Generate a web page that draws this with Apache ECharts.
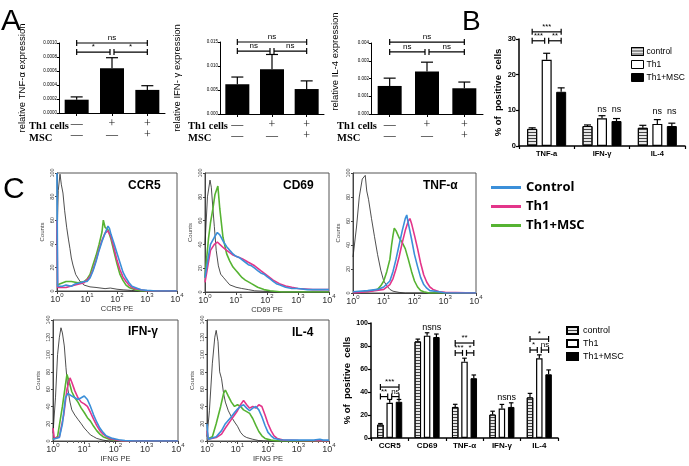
<!DOCTYPE html>
<html><head><meta charset="utf-8">
<script src="https://cdn.jsdelivr.net/npm/echarts@6/dist/echarts.min.js"></script>
<style>html,body{margin:0;padding:0;background:#fff}#c{width:689px;height:466px}</style>
</head><body><div id="c"></div>
<script>
// ================= DATA =================
// Panel A (qPCR)
const groupsA = ['—\n—', '+\n—', '+\n+'];
const tnfMean = [0.00019, 0.00064, 0.00033];
const tnfTop  = [0.00023, 0.00079, 0.00039];
const ifnMean = [0.0062, 0.0093, 0.0052];
const ifnTop  = [0.0077, 0.0124, 0.0069];
const il4Mean = [0.00158, 0.00240, 0.00145];
const il4Top  = [0.00202, 0.00292, 0.00180];
// brackets: [cat1, bar1, cat2, bar2, y, shrinkLeft, shrinkRight]
const sigA1 = [[0,0,2,0,0.00100,0,0],[0,0,1,0,0.00087,0,1],[1,0,2,0,0.00087,1,0]];
const sigA1Txt = ['ns','*','*'];
const sigA2 = [[0,0,2,0,0.0150,0,0],[0,0,1,0,0.0131,0,1],[1,0,2,0,0.0131,1,0]];
const sigA2Txt = ['ns','ns','ns'];
const sigA3 = [[0,0,2,0,0.00405,0,0],[0,0,1,0,0.00350,0,1],[1,0,2,0,0.00350,1,0]];
const sigA3Txt = ['ns','ns','ns'];

// Panel B
const catsB = ['TNF-a', 'IFN-γ', 'IL-4'];
const bCtrl = [4.8, 5.6, 5.1];   const bCtrlTop = [5.1, 5.9, 5.8];
const bTh1  = [24.2, 7.8, 6.2];  const bTh1Top  = [26.0, 8.5, 7.4];
const bMsc  = [15.2, 7.0, 5.6];  const bMscTop  = [16.3, 7.7, 6.4];
const sigB = [[0,-1,0,1,32.0,0,0],[0,-1,0,0,29.5,0,1],[0,0,0,1,29.5,1,0]];
const sigBTxt = ['***','***','**'];
const nsB = [[1,0,9.0],[1,1,9.0],[2,0,8.3],[2,1,8.3]];
const nsBTxt = ['ns','ns','ns','ns'];

// Panel C bar chart
const catsC = ['CCR5', 'CD69', 'TNF-α', 'IFN-γ', 'IL-4'];
const cCtrl = [11.7, 84, 27, 20.4, 35.3];   const cCtrlTop = [12.6, 86, 29.3, 23.3, 38.8];
const cTh1  = [30.6, 89, 66.4, 25.6, 69.4]; const cTh1Top  = [33.5, 91.5, 69.4, 29.2, 72.3];
const cMsc  = [31.5, 87.8, 52, 27, 55.4];   const cMscTop  = [33.5, 90.4, 54.8, 30.6, 59.2];
const sigC = [[0,-1,0,1,44.3,0,0],[0,-1,0,0,36,0,1],[0,0,0,1,36,1,0],
              [2,-1,2,1,82.6,0,0],[2,-1,2,0,74,0,1],[2,0,2,1,74,1,0],
              [4,-1,4,1,86,0,0],[4,-1,4,0,76.5,0,1],[4,0,4,1,76.5,1,0]];
const sigCTxt = ['***','**','ns','**','***','*','*','*','ns'];
const nsC = [[1,0,92],[1,1,92],[3,0,31],[3,1,31]];
const nsCTxt = ['ns','ns','ns','ns'];

// Panel C histograms  [fluorescence, counts]
const ccr5Iso  = [[1,40],[1.1,85],[1.26,99],[1.4,90],[1.58,83],[1.8,68],[2.1,54],[2.4,44],[2.7,36],[3.0,28],[3.4,22],[4.2,14],[5.9,8],[8,5],[12.6,3.5],[20,3],[40,2],[60,2.5],[100,1.5],[160,1],[300,0.5],[500,0],[10000,0]];
const ccr5Ctrl = [[1,100],[1.05,4],[1.5,4],[2,5],[3,4],[4,6],[6,7],[8,8],[10,8],[12.6,11],[15.8,17],[20,25],[25,34],[31.6,42],[40,49],[50,55],[56,53],[63,48],[80,40],[100,32],[126,24],[158,16],[200,11],[251,7],[316,4],[400,3],[631,1],[1000,0.5],[2000,0],[10000,0]];
const ccr5Th1  = [[1,60],[1.05,3],[2,3],[4,5],[8,7],[12.6,12],[15.8,18],[20,26],[25,35],[31.6,43],[40,49],[50,51],[63,46],[80,36],[100,26],[126,18],[158,12],[200,8],[251,5],[316,3],[400,2],[631,1],[1000,0],[10000,0]];
const ccr5Msc  = [[1,5],[2,8],[3,8],[5,7],[8,8],[10,10],[12.6,14],[15.8,22],[20,30],[25,39],[31.6,50],[35,60],[40,54],[50,52],[63,44],[80,33],[100,23],[126,14],[158,9],[200,5],[251,3],[400,1],[631,0],[10000,0]];

const cd69Iso  = [[1,40],[1.2,80],[1.45,94],[1.6,88],[1.8,70],[2.0,55],[2.3,35],[2.7,22],[3.2,15],[4,12],[5,9],[6.3,6],[8,5],[10,4],[15,3],[25,2],[40,1],[100,0.5],[200,0],[10000,0]];
const cd69Ctrl = [[1,12],[1.2,25],[1.5,40],[2,46],[2.5,50],[3,48],[4,42],[5,38],[6.3,35],[8,32],[10,30],[12.6,29],[15.8,27],[20,25],[25,23],[31.6,22],[40,20],[50,18],[63,16],[80,15],[100,13],[126,11],[158,9],[200,7],[251,6],[316,5],[400,4],[631,3],[1000,3],[2000,2],[5000,2],[10000,2]];
const cd69Th1  = [[1,8],[1.2,20],[1.5,35],[2,40],[2.5,42],[3,40],[4,37],[5,35],[6.3,33],[8,31],[10,30],[15.8,28],[25,25],[40,22],[63,18],[100,14],[158,10],[251,7],[400,5],[631,4],[1000,3],[3000,2],[10000,2]];
const cd69Msc  = [[1,12],[1.1,25],[1.3,45],[1.5,58],[1.8,70],[2.1,82],[2.6,89],[3,70],[3.8,46],[5,32],[6.3,26],[8,21],[10,18],[12.6,15],[15.8,12],[20,10],[31.6,7],[50,4],[80,2],[126,1],[300,0],[10000,0]];

const tnfIso  = [[1,30],[1.3,55],[1.6,80],[2.0,95],[2.5,98],[2.8,85],[3.2,78],[4,62],[5,47],[6.3,32],[8,19],[10,10],[12.6,6],[15.8,3],[20,1.5],[31.6,0.5],[50,0],[10000,0]];
const tnfCtrl = [[1,1],[3,2],[6.3,3],[10,5],[15.8,10],[20,18],[25,28],[31.6,40],[40,52],[50,62],[56,65],[63,58],[80,45],[100,32],[126,22],[158,13],[200,7],[251,4],[316,2],[631,1],[1000,0],[10000,0]];
const tnfTh1  = [[1,0],[3,1],[10,3],[15.8,7],[20,12],[25,20],[31.6,30],[40,42],[50,52],[63,60],[71,62],[80,58],[100,48],[126,37],[158,25],[200,15],[251,9],[316,5],[400,3],[631,1],[1000,0.5],[10000,0]];
const tnfMsc  = [[1,1],[3,1],[6.3,3],[8,6],[10,10],[12.6,18],[15.8,28],[18,40],[20,48],[22,54],[25,52],[31.6,46],[40,42],[50,37],[63,28],[80,18],[100,10],[126,5],[158,2],[200,1],[300,0],[10000,0]];

const ifngIso  = [[1,9],[1.2,50],[1.4,100],[1.6,120],[1.8,131],[2.0,125],[2.3,110],[2.6,85],[3.0,60],[3.5,45],[4,36],[5,30],[6.3,25],[8,20],[10,15],[12.6,11],[15.8,7],[20,5],[25,3],[40,1],[60,0],[10000,0]];
const ifngCtrl = [[1,2],[1.6,4],[2,20],[2.5,50],[3,55],[4,52],[5,50],[6.3,48],[8,50],[10,52],[12.6,48],[15.8,40],[20,30],[25,22],[31.6,15],[40,10],[50,6],[80,3],[126,1.5],[200,0.5],[400,0],[10000,0]];
const ifngTh1  = [[1,15],[1.1,3],[1.6,5],[2.2,30],[2.8,60],[3.5,73],[4,68],[5,58],[6.3,50],[8,45],[10,43],[12.6,40],[15.8,33],[20,25],[25,18],[31.6,12],[40,8],[63,3],[100,1.5],[160,0],[10000,0]];
const ifngMsc  = [[1,2],[1.4,5],[2,40],[2.5,65],[2.8,77],[3.2,70],[4,57],[5,50],[6.3,45],[8,38],[10,33],[12.6,27],[15.8,23],[20,17],[25,12],[31.6,8],[40,5],[63,2],[100,1],[160,0],[10000,0]];

const il4Iso  = [[1,5],[1.2,35],[1.5,90],[1.8,120],[2.0,128],[2.3,115],[2.6,80],[3.0,72],[3.5,55],[4,45],[5,35],[6.3,28],[8,22],[10,17],[12.6,10],[15.8,6],[20,4],[31.6,2],[50,0.5],[80,0],[10000,0]];
const il4Ctrl = [[1,20],[1.1,2],[2,5],[3,12],[4,20],[6.3,28],[8,33],[10,37],[12.6,40],[15.8,42],[20,38],[25,35],[31.6,38],[40,40],[50,36],[63,28],[80,18],[100,10],[126,6],[158,3],[251,1.5],[631,1],[3162,1],[5000,2],[6310,1],[10000,1]];
const il4Th1  = [[1,12],[1.1,2],[2,4],[3,8],[4,15],[6.3,25],[8,30],[10,35],[12.6,42],[15.8,47],[20,42],[25,38],[31.6,40],[40,38],[50,42],[63,40],[80,30],[100,20],[126,12],[158,6],[200,3],[316,1],[1000,0.5],[10000,0]];
const il4Msc  = [[1,2],[1.5,5],[2,20],[2.8,40],[3.5,55],[4,59],[5,52],[6.3,45],[8,40],[10,42],[12.6,40],[15.8,36],[20,34],[25,32],[31.6,26],[40,18],[50,11],[63,6],[80,3],[126,1],[200,0],[10000,0]];

// ================= STYLE / BUILD =================
const FONT = 'Arial, "Liberation Sans", sans-serif';
const SERIF = '"Times New Roman", "Liberation Serif", serif';
const BLUE = '#3b8fd9', MAG = '#e3358a', GRN = '#56b332';

const grids = [
  {left:59, top:43, width:106, height:70},
  {left:220, top:42, width:104, height:72},
  {left:371, top:43, width:112, height:71},
  {left:519, top:39, width:166, height:107},
  {left:57, top:173, width:120, height:118, show:true, borderColor:'#555', borderWidth:1},
  {left:205, top:173, width:124, height:119, show:true, borderColor:'#555', borderWidth:1},
  {left:353, top:173, width:123, height:120, show:true, borderColor:'#555', borderWidth:1},
  {left:53, top:320, width:125, height:121, show:true, borderColor:'#555', borderWidth:1},
  {left:207, top:320, width:122, height:121, show:true, borderColor:'#555', borderWidth:1},
  {left:371, top:323, width:187, height:115}
];

const blackLine = {show:true, lineStyle:{color:'#000', width:1}};
function catAxisA(g){ return {type:'category', gridIndex:g, data:groupsA, axisLine:blackLine,
  axisTick:{show:true, alignWithLabel:true, length:3, lineStyle:{color:'#000'}},
  axisLabel:{fontFamily:SERIF, fontSize:12, lineHeight:11, color:'#111', margin:5}}; }
function valAxisA(g, max, interval, dec, name, gap, shift){ return {type:'value', gridIndex:g, min:0, max:max, interval:interval,
  axisLine:blackLine, axisTick:{show:true, length:2, lineStyle:{color:'#000'}}, splitLine:{show:false},
  axisLabel:{fontFamily:FONT, fontSize:4.5, color:'#000', margin:2, formatter:v=>v.toFixed(dec)},
  name:name, nameLocation:'middle', nameGap:gap, nameTextStyle:{fontFamily:FONT, fontSize:9.5, color:'#000', padding:[0,0,0,shift||0]}}; }
function catAxisBar(g, data, fs){ return {type:'category', gridIndex:g, data:data, axisLine:{show:true, lineStyle:{color:'#000', width:1.5}},
  axisTick:{show:true, length:3, lineStyle:{color:'#000', width:1.2}},
  axisLabel:{fontFamily:FONT, fontSize:fs, fontWeight:'bold', color:'#000', margin:4}}; }
function valAxisBar(g, max, interval, fs, gap){ return {type:'value', gridIndex:g, min:0, max:max, interval:interval,
  axisLine:{show:true, lineStyle:{color:'#000', width:1.5}}, axisTick:{show:true, length:3, lineStyle:{color:'#000', width:1.2}}, splitLine:{show:false},
  axisLabel:{fontFamily:FONT, fontSize:fs, fontWeight:'bold', color:'#000', margin:3},
  name:'% of  positive  cells', nameLocation:'middle', nameGap:gap, nameTextStyle:{fontFamily:FONT, fontSize:9.5, fontWeight:'bold', color:'#000'}}; }
function logAxis(g, name, minor){ return {type:'log', logBase:10, gridIndex:g, min:1, max:10000,
  axisLine:{show:true, lineStyle:{color:'#444'}}, axisTick:{show:true, length:3, lineStyle:{color:'#444'}},
  minorTick:{show:!!minor, length:2, splitNumber:5, lineStyle:{color:'#666'}}, splitLine:{show:false},
  axisLabel:{margin:1, formatter:v=>'{b|10}{s|'+Math.round(Math.log10(v))+'}',
    rich:{b:{fontFamily:FONT, fontSize:9, color:'#333', lineHeight:12, verticalAlign:'bottom'},
          s:{fontFamily:FONT, fontSize:6, color:'#333', lineHeight:7, verticalAlign:'top'}}},
  name:name, nameLocation:'middle', nameGap:13, nameTextStyle:{fontFamily:FONT, fontSize:7.5, color:'#333'}}; }
function cntAxis(g, max){ return {type:'value', gridIndex:g, min:0, max:max, interval:20,
  axisLine:{show:true, lineStyle:{color:'#444'}}, axisTick:{show:true, length:2, lineStyle:{color:'#444'}}, splitLine:{show:false},
  axisLabel:{rotate:90, fontFamily:FONT, fontSize:5.5, color:'#444', margin:2},
  name:'Counts', nameLocation:'middle', nameGap:12, nameTextStyle:{fontFamily:FONT, fontSize:6, color:'#444'}}; }

const xAxis = [catAxisA(0), catAxisA(1), catAxisA(2), catAxisBar(3, catsB, 7.5),
  logAxis(4,'CCR5 PE'), logAxis(5,'CD69 PE'), logAxis(6,''), logAxis(7,'IFNG PE',true), logAxis(8,'IFNG PE',true),
  catAxisBar(9, catsC, 8)];
const yAxis = [valAxisA(0,0.0010,0.0002,4,'relative TNF-α expression',32),
  valAxisA(1,0.015,0.005,3,'relative IFN- γ expression',38),
  valAxisA(2,0.004,0.001,3,'relative IL-4 expression',31,34),
  valAxisBar(3,30,10,7.5,14),
  cntAxis(4,100), cntAxis(5,100), cntAxis(6,100), cntAxis(7,140), cntAxis(8,140),
  valAxisBar(9,100,20,7,16)];

const series = [];
function errSeries(g, mean, top, barIdx, step, cap){
  return {type:'custom', xAxisIndex:g, yAxisIndex:g, silent:true, z:1, encode:{x:0, y:1},
    data: mean.map((m,i)=>[i, m, top[i]]),
    renderItem:(p, api)=>{
      const a = api.coord([api.value(0), api.value(1)]);
      const b = api.coord([api.value(0), api.value(2)]);
      const x = a[0] + barIdx*step;
      const st = {stroke:'#000', lineWidth:1.2};
      return {type:'group', children:[
        {type:'line', shape:{x1:x, y1:a[1], x2:x, y2:b[1]}, style:st},
        {type:'line', shape:{x1:x-cap/2, y1:b[1], x2:x+cap/2, y2:b[1]}, style:st}]};
    }};
}
function sigSeries(g, list, txt, step, fs){
  return {type:'custom', xAxisIndex:g, yAxisIndex:g, silent:true, z:6, encode:{x:0, y:4},
    data:list,
    renderItem:(p, api)=>{
      const c1 = api.coord([api.value(0), api.value(4)]);
      const c2 = api.coord([api.value(2), api.value(4)]);
      const x1 = c1[0] + api.value(1)*step + api.value(5)*2;
      const x2 = c2[0] + api.value(3)*step - api.value(6)*2;
      const y = c1[1];
      const st = {stroke:'#000', lineWidth:1.2};
      return {type:'group', children:[
        {type:'line', shape:{x1:x1, y1:y, x2:x2, y2:y}, style:st},
        {type:'line', shape:{x1:x1, y1:y-3, x2:x1, y2:y+3}, style:st},
        {type:'line', shape:{x1:x2, y1:y-3, x2:x2, y2:y+3}, style:st},
        {type:'text', x:(x1+x2)/2, y:y-1, style:{text:txt[p.dataIndex], align:'center', verticalAlign:'bottom', fontSize:fs, fontFamily:FONT, fill:'#000'}}]};
    }};
}
function textSeries(g, list, txt, step, fs){
  return {type:'custom', xAxisIndex:g, yAxisIndex:g, silent:true, z:6, encode:{x:0, y:2},
    data:list,
    renderItem:(p, api)=>{
      const c = api.coord([api.value(0), api.value(2)]);
      return {type:'text', x:c[0] + api.value(1)*step, y:c[1], style:{text:txt[p.dataIndex], align:'center', verticalAlign:'bottom', fontSize:fs, fontFamily:FONT, fill:'#000'}};
    }};
}

// Panel A
[[tnfMean,tnfTop,sigA1,sigA1Txt],[ifnMean,ifnTop,sigA2,sigA2Txt],[il4Mean,il4Top,sigA3,sigA3Txt]].forEach((d,g)=>{
  series.push({type:'bar', xAxisIndex:g, yAxisIndex:g, data:d[0], barWidth:24, itemStyle:{color:'#000'}, z:2});
  series.push(errSeries(g, d[0], d[1], 0, 0, 12));
  series.push(sigSeries(g, d[2], d[3], 0, 8));
});

// Bar charts B and C
const decal = {symbol:'rect', symbolSize:1, dashArrayX:[1,0], dashArrayY:[1,1.2], color:'#444', rotation:0};
const styCtrl = {color:'#e6e6e6', borderColor:'#000', borderWidth:1, decal:decal};
const styTh1 = {color:'#fff', borderColor:'#000', borderWidth:1.2};
const styMsc = {color:'#000', borderColor:'#000', borderWidth:1};
function groupBars(g, ctrl, ctrlTop, th1, th1Top, msc, mscTop, bw, gap, step){
  series.push({type:'bar', name:'control', xAxisIndex:g, yAxisIndex:g, data:ctrl, barWidth:bw, barGap:gap, itemStyle:styCtrl, z:2});
  series.push({type:'bar', name:'Th1 ', xAxisIndex:g, yAxisIndex:g, data:th1, barWidth:bw, barGap:gap, itemStyle:styTh1, z:2});
  series.push({type:'bar', name:'Th1+MSC ', xAxisIndex:g, yAxisIndex:g, data:msc, barWidth:bw, barGap:gap, itemStyle:styMsc, z:2});
  series.push(errSeries(g, ctrl, ctrlTop, -1, step, bw*0.7));
  series.push(errSeries(g, th1, th1Top, 0, step, bw*0.7));
  series.push(errSeries(g, msc, mscTop, 1, step, bw*0.7));
}
groupBars(3, bCtrl, bCtrlTop, bTh1, bTh1Top, bMsc, bMscTop, 10, '45%', 14.5);
series.push(sigSeries(3, sigB, sigBTxt, 14.5, 7.5));
series.push(textSeries(3, nsB, nsBTxt, 14.5, 9));
groupBars(9, cCtrl, cCtrlTop, cTh1, cTh1Top, cMsc, cMscTop, 6.5, '43%', 9.3);
series.push(sigSeries(9, sigC, sigCTxt, 9.3, 8));
series.push(textSeries(9, nsC, nsCTxt, 9.3, 9));

// Histograms
const hists = [[ccr5Iso,ccr5Msc,ccr5Th1,ccr5Ctrl],[cd69Iso,cd69Msc,cd69Th1,cd69Ctrl],[tnfIso,tnfMsc,tnfTh1,tnfCtrl],
               [ifngIso,ifngMsc,ifngTh1,ifngCtrl],[il4Iso,il4Msc,il4Th1,il4Ctrl]];
hists.forEach((h,i)=>{
  const g = 4+i;
  const defs = [['iso','#222',0.8],['Th1+MSC',GRN,1.6],['Th1',MAG,1.6],['Control',BLUE,1.6]];
  h.forEach((d,k)=>{
    series.push({type:'line', name:defs[k][0], xAxisIndex:g, yAxisIndex:g, data:d, showSymbol:false, symbol:'none',
      lineStyle:{color:defs[k][1], width:defs[k][2]}, itemStyle:{color:defs[k][1]}, z:3+k});
  });
});

const legends = [
  {data:['control','Th1 ','Th1+MSC '], left:626, top:42, orient:'vertical', icon:'rect', itemWidth:12, itemHeight:8, itemGap:4,
   itemStyle:{borderWidth:1}, textStyle:{fontFamily:FONT, fontSize:8.5, color:'#000', padding:[0,0,0,-2]}, selectedMode:false},
  {data:['Control','Th1','Th1+MSC'], left:486, top:176, orient:'vertical', icon:'rect', itemWidth:30, itemHeight:3, itemGap:6,
   textStyle:{fontFamily:'"Open Sans", "Noto Sans", sans-serif', fontSize:13, fontWeight:'bold', color:'#000'}, selectedMode:false},
  {data:['control','Th1 ','Th1+MSC '], left:561, top:321, orient:'vertical', icon:'rect', itemWidth:11, itemHeight:7, itemGap:4,
   textStyle:{fontFamily:FONT, fontSize:9, color:'#000'}, selectedMode:false}
];

function txt(x, y, s, fs, opts){ return {type:'text', x:x, y:y, style:Object.assign({text:s, fontSize:fs, fontFamily:FONT, fill:'#000', verticalAlign:'middle'}, opts||{})}; }
const graphic = [
  txt(1, 22, 'A', 30), txt(462, 22, 'B', 28), txt(3, 190, 'C', 30),
  txt(29, 126, 'Th1 cells', 10.5, {fontFamily:SERIF, fontWeight:'bold'}), txt(29, 138, 'MSC', 10.5, {fontFamily:SERIF, fontWeight:'bold'}),
  txt(188, 126, 'Th1 cells', 10.5, {fontFamily:SERIF, fontWeight:'bold'}), txt(188, 138, 'MSC', 10.5, {fontFamily:SERIF, fontWeight:'bold'}),
  txt(337, 126, 'Th1 cells', 10.5, {fontFamily:SERIF, fontWeight:'bold'}), txt(337, 138, 'MSC', 10.5, {fontFamily:SERIF, fontWeight:'bold'}),
  txt(128, 186, 'CCR5', 12, {fontWeight:'bold'}), txt(283, 186, 'CD69', 12, {fontWeight:'bold'}), txt(423, 186, 'TNF-α', 12, {fontWeight:'bold'}),
  txt(128, 332, 'IFN-γ', 12, {fontWeight:'bold'}), txt(292, 333, 'IL-4', 12, {fontWeight:'bold'})
];

const chart = echarts.init(document.getElementById('c'), null, {renderer:'canvas'});
chart.setOption({animation:false, backgroundColor:'#fff', grid:grids, xAxis:xAxis, yAxis:yAxis, series:series, legend:legends, graphic:graphic});
</script></body></html>
